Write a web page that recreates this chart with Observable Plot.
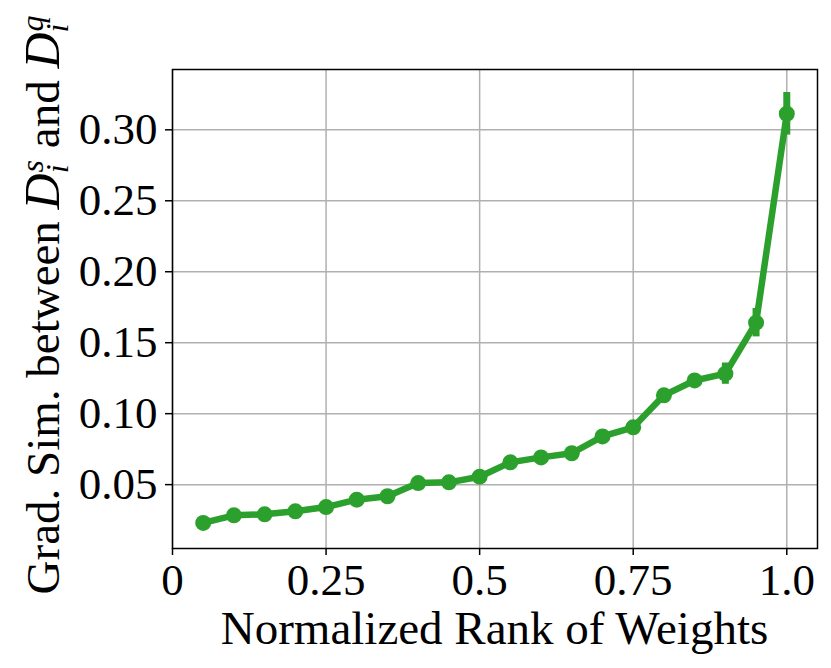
<!DOCTYPE html>
<html>
<head>
<meta charset="utf-8">
<script src="https://cdn.jsdelivr.net/npm/d3@7"></script>
<script src="https://cdn.jsdelivr.net/npm/@observablehq/plot@0.6"></script>
<style>
  html, body { margin: 0; padding: 0; background: white; }
</style>
</head>
<body>
<div id="chart"></div>
<script>
const rank = [0.05, 0.10, 0.15, 0.20, 0.25, 0.30, 0.35, 0.40, 0.45, 0.50,
              0.55, 0.60, 0.65, 0.70, 0.75, 0.80, 0.85, 0.90, 0.95, 1.00];
const gradSim = [0.0230, 0.0284, 0.0291, 0.0312, 0.0342, 0.0394, 0.0418, 0.0511, 0.0516, 0.0556,
                 0.0657, 0.0692, 0.0721, 0.0840, 0.0904, 0.1129, 0.1234, 0.1282, 0.1641, 0.3113];
const gradErr = [0.0008, 0.0008, 0.0008, 0.0008, 0.0008, 0.0008, 0.0008, 0.0010, 0.0010, 0.0010,
                 0.0010, 0.0010, 0.0010, 0.0012, 0.0012, 0.0020, 0.0030, 0.0075, 0.0100, 0.0150];
const xTicks = [0, 0.25, 0.5, 0.75, 1.0];
const xTickLabels = ["0", "0.25", "0.5", "0.75", "1.0"];
const yTicks = [0.05, 0.10, 0.15, 0.20, 0.25, 0.30];
const xLabel = "Normalized Rank of Weights";
const yLabelPrefix = "Grad. Sim. between ";

const data = rank.map((r, i) => ({x: r, y: gradSim[i], lo: gradSim[i] - gradErr[i], hi: gradSim[i] + gradErr[i]}));
const green = "#2ca02c";
const font = "'Liberation Serif', 'Times New Roman', serif";

const chart = Plot.plot({
  width: 831,
  height: 668,
  marginLeft: 172,
  marginRight: 14,
  marginTop: 69,
  marginBottom: 120,
  style: {fontFamily: font, fontSize: "45px", background: "white", color: "black"},
  x: {domain: [0, 1.05], label: null},
  y: {domain: [0.005, 0.3425], label: null},
  marks: [
    Plot.gridX(xTicks, {stroke: "#b0b0b0", strokeOpacity: 1, strokeWidth: 1.5}),
    Plot.gridY(yTicks, {stroke: "#b0b0b0", strokeOpacity: 1, strokeWidth: 1.5}),
    Plot.axisX(xTicks, {tickFormat: d => xTickLabels[xTicks.indexOf(d)], tickSize: 7, tickPadding: 8, strokeWidth: 1.5, fontSize: 45, label: null}),
    Plot.axisY(yTicks, {tickFormat: d3.format(".2f"), tickSize: 7, tickPadding: 8, strokeWidth: 1.5, fontSize: 45, label: null}),
    Plot.line(data, {x: "x", y: "y", stroke: green, strokeWidth: 6.5}),
    Plot.ruleX(data, {x: "x", y1: "lo", y2: "hi", stroke: green, strokeWidth: 7}),
    Plot.dot(data, {x: "x", y: "y", r: 8, fill: green, stroke: "none"}),
    Plot.frame({stroke: "black", strokeWidth: 1.5})
  ]
});

document.getElementById("chart").appendChild(chart);

const svg = d3.select(chart);
svg.append("text")
  .attr("x", (172 + 817) / 2)
  .attr("y", 644)
  .attr("text-anchor", "middle")
  .attr("font-family", font)
  .attr("font-size", 47)
  .attr("fill", "black")
  .text(xLabel);

const yl = svg.append("text")
  .attr("transform", `translate(59, 305) rotate(-90)`)
  .attr("text-anchor", "middle")
  .attr("font-family", font)
  .attr("font-size", 47)
  .attr("fill", "black");
yl.append("tspan").text(yLabelPrefix);
yl.append("tspan").attr("font-style", "italic").attr("font-size", 50).text("D");
yl.append("tspan").attr("font-style", "italic").attr("font-size", 32).attr("dy", 9).text("i");
yl.append("tspan").attr("font-style", "italic").attr("font-size", 32).attr("dy", -25).attr("dx", -8).text("s");
yl.append("tspan").attr("dy", 16).text(" and ");
yl.append("tspan").attr("font-style", "italic").attr("font-size", 50).text("D");
yl.append("tspan").attr("font-style", "italic").attr("font-size", 32).attr("dy", 9).text("i");
yl.append("tspan").attr("font-style", "italic").attr("font-size", 32).attr("dy", -25).attr("dx", -8).text("q");
</script>
</body>
</html>
